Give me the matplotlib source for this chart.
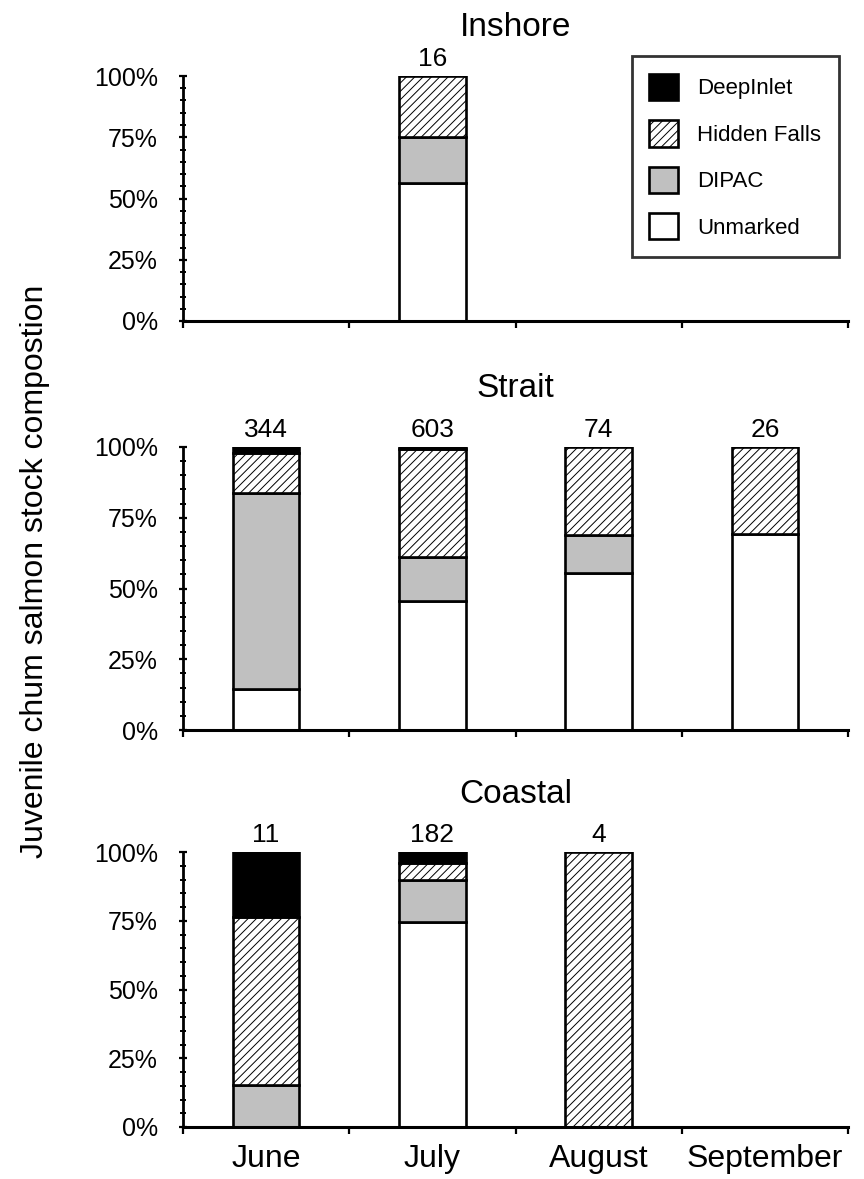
import numpy as np
import matplotlib
matplotlib.use('Agg')
import matplotlib.pyplot as plt
from matplotlib.patches import Patch
from matplotlib.ticker import MultipleLocator

plt.rcParams['font.family'] = ['Liberation Sans', 'DejaVu Sans']
plt.rcParams['hatch.linewidth'] = 0.7

months = ['June', 'July', 'August', 'September']
sources = ['Unmarked', 'DIPAC', 'Hidden Falls', 'DeepInlet']
regions = ['Inshore', 'Strait', 'Coastal']

# percent composition per month, one list per stock source
inshore_unmarked = [0, 56.25, 0, 0]
inshore_dipac = [0, 18.75, 0, 0]
inshore_hidden = [0, 25.0, 0, 0]
inshore_deep = [0, 0, 0, 0]
inshore_n = [None, 16, None, None]

strait_unmarked = [14.6, 45.6, 55.4, 69.2]
strait_dipac = [69.1, 15.6, 13.5, 0]
strait_hidden = [14.3, 38.0, 31.1, 30.8]
strait_deep = [2.0, 0.8, 0, 0]
strait_n = [344, 603, 74, 26]

coastal_unmarked = [0, 74.5, 0, 0]
coastal_dipac = [15.2, 15.3, 0, 0]
coastal_hidden = [61.0, 6.2, 100.0, 0]
coastal_deep = [23.8, 4.0, 0, 0]
coastal_n = [11, 182, 4, None]

data = {
    'Inshore': [inshore_unmarked, inshore_dipac, inshore_hidden, inshore_deep],
    'Strait': [strait_unmarked, strait_dipac, strait_hidden, strait_deep],
    'Coastal': [coastal_unmarked, coastal_dipac, coastal_hidden, coastal_deep],
}
counts = {'Inshore': inshore_n, 'Strait': strait_n, 'Coastal': coastal_n}

styles = {
    'Unmarked': dict(facecolor='white', hatch=None),
    'DIPAC': dict(facecolor='#c0c0c0', hatch=None),
    'Hidden Falls': dict(facecolor='white', hatch='////'),
    'DeepInlet': dict(facecolor='black', hatch=None),
}

W, H = 864, 1179
fig = plt.figure(figsize=(W / 100, H / 100), dpi=100)

# axes boxes in pixels: (left, top, right, bottom)
boxes = {'Inshore': (183, 76, 848, 321),
         'Strait': (183, 447, 848, 730),
         'Coastal': (183, 852, 848, 1127)}
title_pad = {'Inshore': 29, 'Strait': 36, 'Coastal': 35}

x = np.arange(len(months))
bar_w = 0.4
edge_lw = 1.9

for name in regions:
    l, t, r, b = boxes[name]
    ax = fig.add_axes([l / W, 1 - b / H, (r - l) / W, (b - t) / H])
    bottom = np.zeros(len(months))
    for src, vals in zip(sources, data[name]):
        vals = np.array(vals, dtype=float)
        m = vals > 0
        if m.any():
            ax.bar(x[m], vals[m], bar_w, bottom=bottom[m], edgecolor='black',
                   linewidth=edge_lw, zorder=3, **styles[src])
        bottom += vals

    for xi, n in zip(x, counts[name]):
        if n is not None:
            ax.annotate(str(n), xy=(xi, 100), xytext=(0, 7), textcoords='offset points',
                        ha='center', va='baseline', fontsize=19)

    ax.annotate(name, xy=(0.5, 1), xycoords='axes fraction', xytext=(0, title_pad[name]),
                textcoords='offset points', ha='center', va='baseline', fontsize=24)

    ax.set_xlim(-0.5, len(months) - 0.5)
    ax.set_ylim(0, 100)
    for s in ['top', 'right']:
        ax.spines[s].set_visible(False)
    ax.spines['left'].set_linewidth(2)
    ax.spines['bottom'].set_linewidth(2.2)
    ax.spines['left'].set_zorder(4)
    ax.spines['bottom'].set_zorder(4)

    ax.yaxis.set_minor_locator(MultipleLocator(5))
    ax.set_yticks([0, 25, 50, 75, 100])
    ax.set_yticklabels(['0%', '25%', '50%', '75%', '100%'], fontsize=18)
    ax.tick_params(axis='y', which='major', direction='inout', length=6, width=1.6, pad=15)
    ax.tick_params(axis='y', which='minor', direction='inout', length=5, width=1.4)

    ax.set_xticks(np.arange(-0.5, len(months)), minor=False)
    ax.set_xticklabels([])
    ax.tick_params(axis='x', which='major', direction='out', length=5, width=1.6)
    ax.set_xticks(x, minor=True)
    if name == 'Coastal':
        ax.set_xticklabels(months, minor=True, fontsize=23)
    else:
        ax.set_xticklabels([], minor=True)
    ax.tick_params(axis='x', which='minor', length=0, pad=12)

    if name == 'Inshore':
        handles = [Patch(edgecolor='black', linewidth=edge_lw, **styles[s]) for s in sources[::-1]]
        leg = ax.legend(handles, sources[::-1], loc='upper right',
                        bbox_to_anchor=(839 / W, 1 - 56 / H), bbox_transform=fig.transFigure,
                        fontsize=16, frameon=True, fancybox=False, handlelength=1.3,
                        handleheight=1.45, handletextpad=0.85, labelspacing=0.9,
                        borderpad=0.8, borderaxespad=0)
        leg.get_frame().set_edgecolor('black')
        leg.get_frame().set_linewidth(2)

fig.text(35 / W, 1 - 571 / H, 'Juvenile chum salmon stock compostion', rotation=90,
         ha='center', va='center', fontsize=23)

fig.savefig('out.png', dpi=100)
